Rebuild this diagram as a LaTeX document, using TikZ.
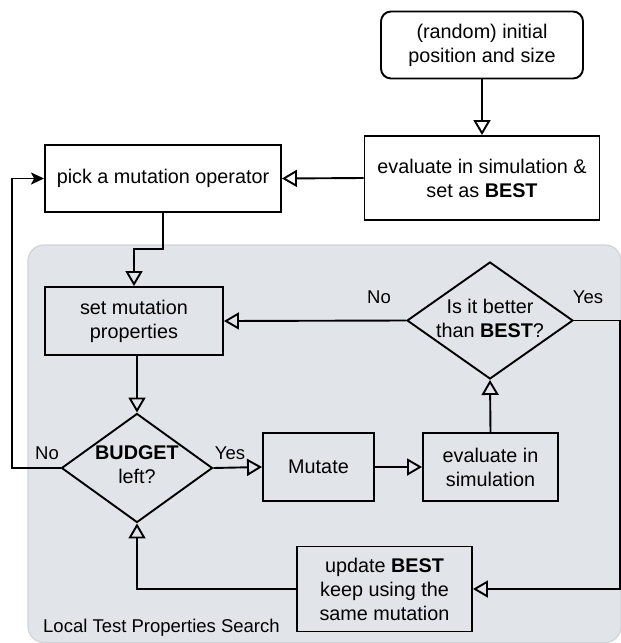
\documentclass[tikz,border=0pt]{standalone}
\usepackage{fontspec}
\setmainfont{Liberation Sans}
\usetikzlibrary{arrows.meta,shapes.geometric}
\definecolor{regionfill}{RGB}{225,228,232}
\definecolor{regionedge}{RGB}{208,212,216}
\begin{document}
\begin{tikzpicture}[x=1pt,y=-1pt,
  every node/.style={font=\fontsize{19.8}{24}\selectfont, align=center},
  procbox/.style={draw, line width=1.9pt, inner sep=0pt},
  decision/.style={draw, diamond, line width=1.9pt, inner sep=0pt, aspect=1.4},
  flow/.style={line width=1.9pt, -{Triangle[open, length=15pt, width=17pt]}},
  loopflow/.style={line width=1.9pt, -{Stealth[length=13pt, width=12pt, inset=3pt]}},
  edgelabel/.style={font=\fontsize{18.5}{22}\selectfont},
]
\useasboundingbox (0,0) rectangle (621,643);
\fill[regionfill, draw=regionedge, line width=1.2pt, rounded corners=16pt] (28,245) rectangle (621,642.5);

\node[procbox, rounded corners=10pt, minimum width=202pt, minimum height=67pt] (init) at (482,45) {(random) initial\\position and size};
\node[procbox, minimum width=235pt, minimum height=84pt] (evalbest) at (482,178) {evaluate in simulation \&\\set as \textbf{BEST}};
\node[procbox, minimum width=236pt, minimum height=67pt] (pick) at (163,178.5) {pick a mutation operator};
\node[procbox, minimum width=178pt, minimum height=68pt] (setprop) at (134,321) {set mutation\\properties};
\node[decision, minimum width=151pt, minimum height=109pt] (budget) at (137,468) {};
\node (budgettext) at (137,465) {\textbf{BUDGET}\\left?};
\node[decision, minimum width=166pt, minimum height=117pt] (better) at (490,320.5) {};
\node (bettertext) at (490,318) {Is it better\\than \textbf{BEST}?};
\node[procbox, minimum width=111pt, minimum height=68pt] (mutate) at (318.5,467) {Mutate};
\node[procbox, minimum width=135pt, minimum height=68pt] (evalsim) at (490.5,467) {evaluate in\\simulation};
\node[procbox, minimum width=175pt, minimum height=85pt] (update) at (384.5,589) {update \textbf{BEST}\\keep using the\\same mutation};

\coordinate (bendA) at (163,249);
\coordinate (bendB) at (134,249);
\coordinate (yesright) at (620,320.5);
\coordinate (yesdown) at (620,589);
\coordinate (updleft) at (137,589);
\coordinate (loopA) at (12,468);
\coordinate (loopB) at (12,178.5);

\draw[flow] (init.south) -- (evalbest.north);
\draw[flow] (evalbest.west) -- (pick.east);
\draw[flow] (pick.south) -- (bendA) -- (bendB) -- (setprop.north);
\draw[flow] (setprop.south -| budget.north) -- (budget.north);
\draw[flow] (budget.east) -- (mutate.west);
\draw[flow] (mutate.east) -- (evalsim.west);
\draw[flow] (evalsim.north) -- (better.south);
\draw[flow] (better.west) -- (setprop.east);
\draw[flow] (better.east) -- (yesright) -- (yesdown) -- (update.east);
\draw[flow] (update.west) -- (updleft) -- (budget.south);
\draw[loopflow] (budget.west) -- (loopA) -- (loopB) -- (pick.west);

\node[edgelabel] (nobudget) at (47,453) {No};
\node[edgelabel] (yesbudget) at (230,453) {Yes};
\node[edgelabel] (nobetter) at (379,297) {No};
\node[edgelabel] (yesbetter) at (588,297) {Yes};
\node[anchor=west, inner sep=0pt, font=\fontsize{18.5}{22}\selectfont] (regionlabel) at (43,628) {Local Test Properties Search};
\end{tikzpicture}
\end{document}
